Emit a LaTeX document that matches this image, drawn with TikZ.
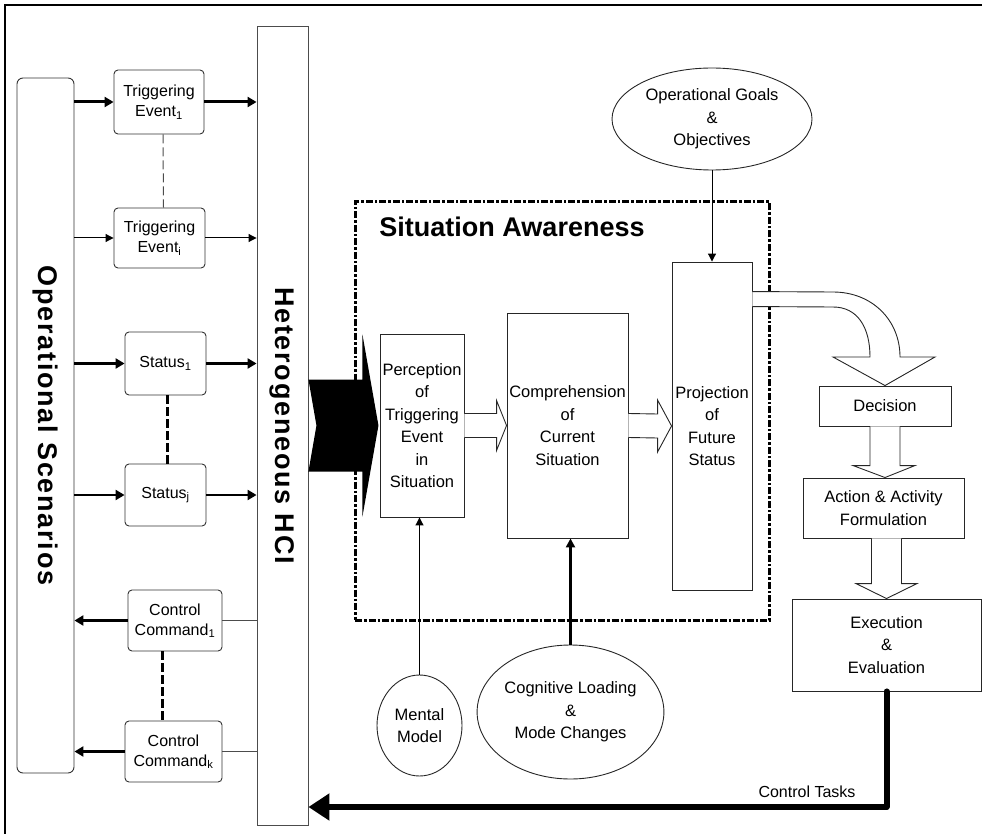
\documentclass[tikz,border=0pt]{standalone}
\usepackage{fontspec}
\setmainfont{Liberation Sans}
\newfontfamily\spacedfont[LetterSpace=6.5]{Liberation Sans}
\usetikzlibrary{arrows.meta,calc,shapes.geometric}

\begin{document}
\begin{tikzpicture}[x=1pt,y=-1pt,
  every node/.style={inner sep=1pt, align=center, font=\fontsize{16.5}{22.5}\selectfont},
  tagbox/.style={draw=black!80, line width=0.9pt, rounded corners=4pt,
    font=\fontsize{16}{20}\selectfont},
  plainbox/.style={draw=black!85, line width=0.9pt},
  bubble/.style={draw=black!85, line width=0.9pt, ellipse, inner sep=0pt},
  hollow/.style={draw=black!85, line width=0.9pt, fill=white, line join=miter},
  bigtitle/.style={rotate=-90, font=\spacedfont\bfseries\fontsize{27}{32}\selectfont},
  flowthick/.style={line width=3pt, -{Triangle[length=9pt,width=10pt]}},
  flowmid/.style={line width=2.4pt, -{Triangle[length=9pt,width=10pt]}},
  flowthin/.style={line width=1pt, -{Triangle[length=8pt,width=8pt]}},
  linkthin/.style={line width=0.9pt, draw=black!70},
  gapthin/.style={line width=1pt, draw=black!70, dash pattern=on 9pt off 4pt},
  gapthick/.style={line width=3pt, dash pattern=on 9pt off 3pt},
  controlflow/.style={line width=6pt, line cap=round, line join=round,
    -{Triangle[length=21pt,width=26pt]}},
]
\useasboundingbox (0,0) rectangle (982,834);

% outer frame (top and left edges)
\draw[line width=2.2pt] (5,834) -- (5,5) -- (982,5);

% left column: scenarios and the HCI layer
\node[tagbox, rounded corners=6pt, minimum width=57pt, minimum height=695pt] (ops) at (45.5,425.5) {};
\node[bigtitle] (opstitle) at (ops.center) {Operational Scenarios};
\node[plainbox, draw=black!70, minimum width=51pt, minimum height=799pt] (hci) at (282.5,425.5) {};
\node[bigtitle] (hcititle) at (hci.center) {Heterogeneous HCI};

% events, states and commands
\node[tagbox, minimum width=90pt, minimum height=64pt] (te1) at (159,102) {Triggering\\Event\textsubscript{1}};
\node[tagbox, minimum width=91pt, minimum height=60pt] (tei) at (159.5,238) {Triggering\\Event\textsubscript{i}};
\node[tagbox, minimum width=81pt, minimum height=63pt] (st1) at (165.5,363.5) {Status\textsubscript{1}};
\node[tagbox, minimum width=81pt, minimum height=62pt] (stj) at (165.5,495) {Status\textsubscript{j}};
\node[tagbox, minimum width=94pt, minimum height=61pt] (cc1) at (175,620.5) {Control\\Command\textsubscript{1}};
\node[tagbox, minimum width=97pt, minimum height=61pt] (cck) at (173.5,751.5) {Control\\Command\textsubscript{k}};

\draw[flowthick] (te1.west -| ops.east) -- (te1.west);
\draw[flowthick] (te1.east) -- (te1.east -| hci.west);
\draw[flowthin] (tei.west -| ops.east) -- (tei.west);
\draw[flowthin] (tei.east) -- (tei.east -| hci.west);
\draw[flowmid] (st1.west -| ops.east) -- (st1.west);
\draw[flowmid] (st1.east) -- (st1.east -| hci.west);
\draw[flowmid] (stj.west -| ops.east) -- (stj.west);
\draw[flowmid] (stj.east) -- (stj.east -| hci.west);
\draw[flowthick] (cc1.west) -- (cc1.west -| ops.east);
\draw[linkthin] (hci.west |- cc1.east) -- (cc1.east);
\draw[flowthick] (cck.west) -- (cck.west -| ops.east);
\draw[linkthin] (hci.west |- cck.east) -- (cck.east);

\draw[gapthin] ([xshift=4pt]te1.south) -- ([xshift=4pt]tei.north);
\draw[gapthick] ([xshift=1.5pt]st1.south) -- ([xshift=1.5pt]stj.north);
\draw[gapthick] ([xshift=-13pt]cc1.south) -- ([xshift=-11.5pt]cck.north);

% solid chevron into situation awareness
\fill[black] ($(hci.east)+(0,-46)$) -- ++(54,0) -- ++(0,-45) -- ++(16,91)
  -- ++(-16,91) -- ++(0,-45) -- ++(-54,0) -- ++(8,-46) -- cycle;

% situation awareness frame
\node[draw, line width=3pt, dash pattern=on 7pt off 2pt on 2.5pt off 2pt,
  minimum width=414pt, minimum height=418pt, inner sep=0pt] (sa) at (562,411) {};
\node[font=\bfseries\fontsize{27}{32}\selectfont, anchor=base] (satitle) at (512,237) {Situation Awareness};

\node[plainbox, minimum width=84pt, minimum height=183pt] (perc) at (422,425.5)
  {Perception\\of\\Triggering\\Event\\in\\Situation};
\node[plainbox, minimum width=121pt, minimum height=225pt] (comp) at (567.5,425.5)
  {Comprehension\\of\\Current\\Situation};
\node[plainbox, minimum width=80pt, minimum height=328pt] (proj) at (712,426)
  {Projection\\of\\Future\\Status};

\draw[hollow] ($(perc.east)+(0,-12)$) -- ($(comp.west)+(-10,-12)$) -- ($(comp.west)+(-10,-25)$)
  -- (comp.west) -- ($(comp.west)+(-10,25)$) -- ($(comp.west)+(-10,12)$) -- ($(perc.east)+(0,12)$);
\draw[hollow] ($(comp.east)+(0,-12)$) -- ($(proj.west)+(-14,-12)$) -- ($(proj.west)+(-14,-26)$)
  -- (proj.west) -- ($(proj.west)+(-14,26)$) -- ($(proj.west)+(-14,12)$) -- ($(comp.east)+(0,12)$);

% goals feeding the projection
\node[bubble, minimum width=200pt, minimum height=102pt] (og) at (712,119)
  {Operational Goals\\\&\\Objectives};
\draw[flowthin] (og.south) -- (proj.north);

% decision chain
\node[plainbox, minimum width=132pt, minimum height=40pt] (dec) at (885,406) {Decision};
\node[plainbox, minimum width=161pt, minimum height=60pt] (act) at (883.5,508) {Action \& Activity\\Formulation};
\node[plainbox, minimum width=189pt, minimum height=92pt] (exe) at (886.5,645) {Execution\\\&\\Evaluation};

\draw[hollow] ($(proj.north east)+(0,30)$) -- (833,292)
  .. controls (872,292) and (900,320) .. (900,357) -- (935,357) -- (dec.north)
  -- (833,357) -- (870,357) .. controls (870,328) and (858,307) .. (833,307)
  -- ($(proj.north east)+(0,45)$);
\draw[hollow] ($(dec.south)+(-15,0)$) -- ($(dec.south |- act.north)+(-15,-12)$)
  -- ($(dec.south |- act.north)+(-32,-12)$) -- (dec.south |- act.north)
  -- ($(dec.south |- act.north)+(30,-12)$) -- ($(dec.south |- act.north)+(15,-12)$)
  -- ($(dec.south)+(15,0)$);
\draw[hollow] ($(act.south -| exe.north)+(-15,0)$) -- ($(exe.north)+(-15,-15)$)
  -- ($(exe.north)+(-30.5,-15)$) -- (exe.north) -- ($(exe.north)+(30.5,-15)$)
  -- ($(exe.north)+(15,-15)$) -- ($(act.south -| exe.north)+(15,0)$);

% influences from below
\node[bubble, minimum width=85pt, minimum height=101pt] (mental) at (419.5,725.5) {Mental\\Model};
\node[bubble, minimum width=165pt, minimum height=134pt] (cog) at (570.5,712)
  {Cognitive Loading\\\&\\Mode Changes};
\draw[flowthin] (mental.north) -- (mental.north |- perc.south);
\draw[line width=3pt, -{Triangle[length=9pt,width=9pt]}] (cog.north) -- (cog.north |- comp.south);

% control tasks back to the HCI
\coordinate (ctbend) at (886.5,807);
\draw[controlflow] (exe.south) -- (exe.south |- ctbend) -- (ctbend -| hci.east);
\node[font=\fontsize{16}{20}\selectfont] (ctlabel) at (807,792) {Control Tasks};

\end{tikzpicture}
\end{document}
